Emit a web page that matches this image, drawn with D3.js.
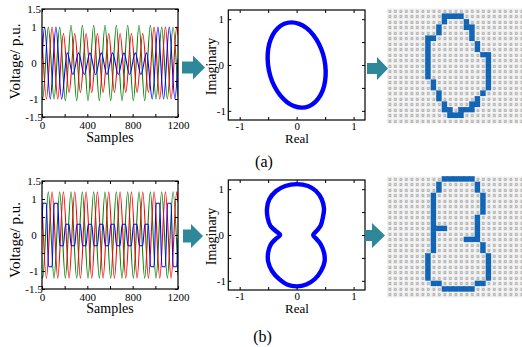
<!DOCTYPE html>
<html><head><meta charset="utf-8">
<script src="https://cdn.jsdelivr.net/npm/d3@7"></script>
<style>body{margin:0;background:#fff}svg{display:block}text{font-family:"Liberation Serif","Times New Roman",serif;fill:#000}</style>
</head><body><svg id="c" width="522" height="347"></svg>
<script>
// ---------- data ----------
const sampleTicks=[0,200,400,600,800,1000,1200];
const sampleLabels=[0,400,800,1200];
const voltTicks=[-1.5,-1,-0.5,0,0.5,1,1.5];
const voltLabels=[-1.5,-1,0,1,1.5];
const svTicks=[-1,-0.5,0,0.5,1];
const svLabels=[-1,0,1];

// waveform extrema [sample, value]
const blueA=[[0,0.12],[23,1],[73,-1],[123,1],[173,-1],[223,0.28],[273,-0.32],[323,0.28],[373,-0.32],[423,0.28],[473,-0.32],[523,0.28],[573,-0.32],[623,0.28],[673,-0.32],[723,0.28],[773,-0.32],[823,0.28],[873,-0.32],[923,0.28],[973,-1],[1023,1],[1073,-1],[1123,1],[1173,-1],[1200,0.12]];
const greenA=[[0,-0.93],[6,-1],[56,1],[106,-1],[156,1],[206,-1.05],[256,1.05],[306,-1.05],[356,1.05],[406,-1.05],[456,1.05],[506,-1.05],[556,1.05],[606,-1.05],[656,1.05],[706,-1.05],[756,1.05],[806,-1.05],[856,1.05],[906,-1.05],[956,1.05],[1006,-1],[1056,1],[1106,-1],[1156,1],[1200,-0.93]];
const redA=[[0,0.77],[39,-1],[89,1],[139,-1],[189,0.82],[239,-0.82],[289,0.82],[339,-0.82],[389,0.82],[439,-0.82],[489,0.82],[539,-0.82],[589,0.82],[639,-0.82],[689,0.82],[739,-0.82],[789,0.82],[839,-0.82],[889,0.82],[939,-0.82],[989,1],[1039,-1],[1089,1],[1139,-1],[1189,1],[1200,0.77]];

const blueB=[[0,0.15],[8,0.88],[38,0.88],[58,-0.88],[88,-0.88],[108,0.88],[138,0.88],[158,-0.3],[188,-0.3],[208,0.3],[238,0.3],[258,-0.3],[288,-0.3],[308,0.3],[338,0.3],[358,-0.3],[388,-0.3],[408,0.3],[438,0.3],[458,-0.3],[488,-0.3],[508,0.3],[538,0.3],[558,-0.3],[588,-0.3],[608,0.3],[638,0.3],[658,-0.3],[688,-0.3],[708,0.3],[738,0.3],[758,-0.3],[788,-0.3],[808,0.3],[838,0.3],[858,-0.3],[888,-0.3],[908,0.3],[938,0.3],[958,-0.88],[988,-0.88],[1008,0.88],[1038,0.88],[1058,-0.88],[1088,-0.88],[1108,0.88],[1138,0.88],[1158,-0.88],[1188,-0.88],[1200,-0.1]];
const greenB=[[0,-1.12],[6,-1.2],[56,1.2],[106,-1.2],[156,1.2],[206,-1.2],[256,1.2],[306,-1.2],[356,1.2],[406,-1.2],[456,1.2],[506,-1.2],[556,1.2],[606,-1.2],[656,1.2],[706,-1.2],[756,1.2],[806,-1.2],[856,1.2],[906,-1.2],[956,1.2],[1006,-1.2],[1056,1.2],[1106,-1.2],[1156,1.2],[1200,-1.12]];
const redB=[[0,0.92],[39,-1.2],[89,1.2],[139,-1.2],[189,1.2],[239,-1.2],[289,1.2],[339,-1.2],[389,1.2],[439,-1.2],[489,1.2],[539,-1.2],[589,1.2],[639,-1.2],[689,1.2],[739,-1.2],[789,1.2],[839,-1.2],[889,1.2],[939,-1.2],[989,1.2],[1039,-1.2],[1089,1.2],[1139,-1.2],[1189,1.2],[1200,0.92]];

// space-vector loops [real, imaginary]
const loopA=[[-0.09,0.93],[0.043,0.898],[0.173,0.805],[0.291,0.658],[0.39,0.465],[0.462,0.241],[0.502,0],[0.508,-0.241],[0.48,-0.465],[0.419,-0.658],[0.329,-0.805],[0.217,-0.898],[0.09,-0.93],[-0.043,-0.898],[-0.173,-0.805],[-0.291,-0.658],[-0.39,-0.465],[-0.462,-0.241],[-0.502,0],[-0.508,0.241],[-0.48,0.465],[-0.419,0.658],[-0.329,0.805],[-0.217,0.898]];
const loopB=[[0,1.11],[0.2,1.07],[0.34,0.96],[0.44,0.78],[0.48,0.58],[0.46,0.38],[0.42,0.2],[0.35,0.09],[0.29,0],[0.35,-0.09],[0.42,-0.2],[0.48,-0.38],[0.49,-0.58],[0.43,-0.78],[0.32,-0.96],[0.17,-1.08],[0,-1.12],[-0.17,-1.08],[-0.3,-0.97],[-0.43,-0.79],[-0.5,-0.58],[-0.5,-0.38],[-0.45,-0.2],[-0.37,-0.09],[-0.29,0],[-0.37,0.09],[-0.46,0.2],[-0.51,0.38],[-0.52,0.58],[-0.48,0.78],[-0.36,0.96],[-0.2,1.07]];

// pixel images (# = blue cell)
const imgA=[
".........................",
"..........####...........",
"..........#...#..........",
".........#....##.........",
".........#.....#.........",
".......##......#.........",
".......#........#........",
".......#........#........",
".......#.........##......",
".......#..........#......",
".......#..........#......",
".......#..........#......",
".......#..........#......",
"........#.........#......",
"........#.........#......",
".........#.......#.......",
".........#......#........",
"..........#....##........",
"..........##.###.........",
"...........###...........",
"........................."];
const imgB=[
"..........######.........",
".........#......#........",
".........#......#........",
"........#........#.......",
"........#........#.......",
"........#........#.......",
"........#........#.......",
"........#.......#........",
"........#.......#........",
"........###.....#........",
"........#.......#........",
"........#.....###........",
"........#........#.......",
"........#........#.......",
".......#..........#......",
".......#..........#......",
".......#..........#......",
".......#..........#......",
".......#..........#......",
"........##......##.......",
"..........######.........",
"........................."];

// ---------- drawing ----------
const svg=d3.select("#c");
const FONT_T=11;

function box(g,x,y){
  const [a,b]=x.range(), [c,d]=y.range();
  g.append("rect").attr("x",Math.min(a,b)).attr("y",Math.min(c,d))
   .attr("width",Math.abs(b-a)).attr("height",Math.abs(d-c))
   .attr("fill","none").attr("stroke","#000").attr("stroke-width",1.2);
}
function axes(g,x,y,xt,xl,yt,yl,xpad,ylx){
  const fmt=l=>d=>l.includes(d)?String(d):"";
  const [y0,y1]=y.range(), [x0,x1]=x.range();
  const ab=g.append("g").attr("transform",`translate(0,${y0})`)
    .call(d3.axisBottom(x).tickValues(xt).tickSize(-3).tickPadding(xpad).tickFormat(fmt(xl)));
  const at=g.append("g").attr("transform",`translate(0,${y1})`)
    .call(d3.axisTop(x).tickValues(xt).tickSize(-3).tickFormat(""));
  const al=g.append("g").attr("transform",`translate(${x0},0)`)
    .call(d3.axisLeft(y).tickValues(yt).tickSize(-3).tickFormat(fmt(yl)));
  const ar=g.append("g").attr("transform",`translate(${x1},0)`)
    .call(d3.axisRight(y).tickValues(yt).tickSize(-3).tickFormat(""));
  [ab,at,al,ar].forEach(a=>{a.select(".domain").remove();
    a.selectAll("line").attr("stroke","#000").attr("stroke-width",1);
    a.selectAll("text").style("font-family",'"Liberation Serif",serif').style("font-size",FONT_T+"px").attr("fill","#000");});
  al.selectAll("text").attr("text-anchor","middle").attr("x",ylx);
}
function vtext(g,cx,cy,s,size){
  g.append("text").attr("transform",`translate(${cx},${cy}) rotate(-90)`)
   .attr("text-anchor","middle").attr("dominant-baseline","central")
   .style("font-size",size+"px").text(s);
}
function htext(g,cx,by,s,size){
  g.append("text").attr("x",cx).attr("y",by).attr("text-anchor","middle")
   .style("font-size",size+"px").text(s);
}

function wavePanel(top,bot,blue,red,green){
  const g=svg.append("g");
  const x=d3.scaleLinear().domain([0,1200]).range([42,178]);
  const y=d3.scaleLinear().domain([-1.5,1.5]).range([bot,top]);
  const id="cl"+Math.round(top);
  g.append("clipPath").attr("id",id).append("rect").attr("x",42).attr("y",top).attr("width",136).attr("height",bot-top);
  const line=d3.line().x(d=>x(d[0])).y(d=>y(d[1])).curve(d3.curveMonotoneX);
  const pg=g.append("g").attr("clip-path",`url(#${id})`);
  [[green,"#008000"],[red,"#ff0000"],[blue,"#0000ff"]].forEach(([s,c])=>{
    pg.append("path").attr("d",line(s)).attr("fill","none").attr("stroke",c).attr("stroke-width",1.1);
  });
  box(g,x,y);
  axes(g,x,y,sampleTicks,sampleLabels,voltTicks,voltLabels,4.5,-8);
  return {g,x,y};
}
function loopPanel(top,bot,loop){
  const g=svg.append("g");
  const x=d3.scaleLinear().domain([-1.2,1.2]).range([228.3,365]);
  const y=d3.scaleLinear().domain([-1.2,1.2]).range([bot,top]);
  const line=d3.line().x(d=>x(d[0])).y(d=>y(d[1])).curve(d3.curveCatmullRomClosed.alpha(0.5));
  g.append("path").attr("d",line(loop)).attr("fill","none").attr("stroke","#0000ff").attr("stroke-width",4.4);
  box(g,x,y);
  axes(g,x,y,svTicks,svLabels,svTicks,svLabels,2,-7);
  return {g,x,y};
}
function imgPanel(x0,y0,rows,cell){
  const g=svg.append("g");
  const nc=rows[0].length, nr=rows.length;
  const cx=d3.scaleBand().domain(d3.range(nc)).range([x0,x0+nc*cell]);
  const cy=d3.scaleBand().domain(d3.range(nr)).range([y0,y0+nr*cell]);
  const cells=[];
  rows.forEach((r,i)=>r.split("").forEach((ch,j)=>cells.push({i,j,on:ch==="#"})));
  g.selectAll("rect").data(cells).join("rect")
   .attr("x",d=>cx(d.j)).attr("y",d=>cy(d.i)).attr("width",cell).attr("height",cell)
   .attr("fill",d=>d.on?"#1264b4":"#e9e9e9").attr("stroke",d=>d.on?"#1264b4":"#fbfbfb").attr("stroke-width",0.6);
  g.append("g").attr("opacity",0.55).selectAll("text").data(cells.filter(d=>!d.on)).join("text")
   .attr("x",d=>cx(d.j)+cell/2).attr("y",d=>cy(d.i)+cell/2+1.5).attr("text-anchor","middle")
   .style("font-size","4.2px").style("font-family","DejaVu Sans,sans-serif").attr("fill","#a8a8a8").text("0");
}
function arrow(xs,xm,xe,cy,bh,hh){
  svg.append("path").attr("d",`M${xs},${cy-bh/2}L${xm},${cy-bh/2}L${xm},${cy-hh/2}L${xe},${cy}L${xm},${cy+hh/2}L${xm},${cy+bh/2}L${xs},${cy+bh/2}Z`)
   .attr("fill","#2f889a");
}

// row (a)
wavePanel(9,117,blueA,redA,greenA);
vtext(svg,15,61.5,"Voltage/ p.u.",15);
htext(svg,110,141.5,"Samples",14);
loopPanel(10,120,loopA);
vtext(svg,211.7,66.5,"Imaginary",14);
htext(svg,297,142.5,"Real",13);
imgPanel(387,8.3,imgA,5.5);
arrow(182,193,205,67.5,12,24);
arrow(367,377,388,68.5,11,23);
htext(svg,264,167,"(a)",16);

// row (b)
wavePanel(181,289,blueB,redB,greenB);
vtext(svg,15,240,"Voltage/ p.u.",15);
htext(svg,110,313,"Samples",14);
loopPanel(180,290,loopB);
vtext(svg,211.7,236.5,"Imaginary",14);
htext(svg,297,312.5,"Real",13);
imgPanel(387,176.5,imgB,5.5);
arrow(183,191,203,236,13,24);
arrow(365,372,385,235.5,11,25);
htext(svg,262.5,342,"(b)",16);
</script></body></html>
